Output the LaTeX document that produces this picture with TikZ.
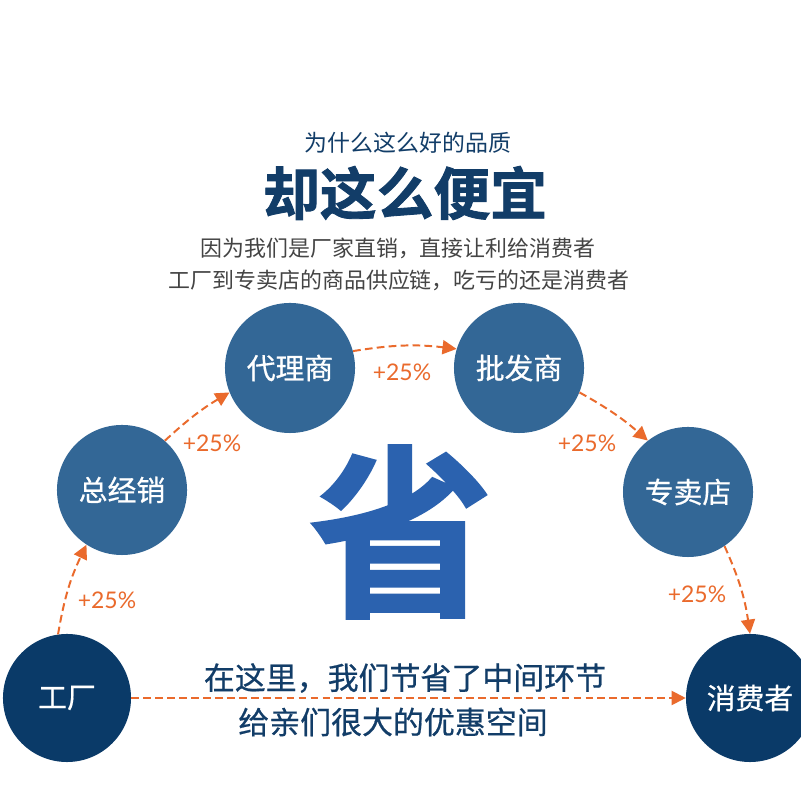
\documentclass[tikz,border=0pt]{standalone}
\usepackage{fontspec}
\newfontfamily\cjk{Noto Sans CJK SC}
\newfontfamily\cjkmed{Noto Sans CJK SC}[FakeBold=0.6]
\newfontfamily\cjkheavy{Noto Sans CJK SC}[UprightFont=* Bold, FakeBold=1.5]
\newfontfamily\latofont{Lato}
\usetikzlibrary{arrows.meta}
\definecolor{midblue}{RGB}{51,103,150}
\definecolor{darkblue}{RGB}{10,58,104}
\definecolor{titleblue}{RGB}{18,61,104}
\definecolor{bigblue}{RGB}{43,98,175}
\definecolor{flow}{RGB}{234,106,44}
\definecolor{graytext}{RGB}{68,68,68}
\begin{document}
\begin{tikzpicture}[x=0.025cm,y=0.025cm,
  midnode/.style={circle, fill=midblue, inner sep=0pt, minimum size=3.25cm,
    text=white, font=\cjkmed\fontsize{20.5}{20.5}\selectfont},
  endnode/.style={circle, fill=darkblue, inner sep=0pt, minimum size=3.2cm,
    text=white, font=\cjkmed\fontsize{20.5}{20.5}\selectfont},
  flowline/.style={draw=flow, line width=1.4pt, dash pattern=on 5.5pt off 3pt,
    -{Triangle[length=10pt,width=10pt]}},
  pct/.style={text=flow, font=\latofont\fontsize{16.3}{16.3}\selectfont, inner sep=0pt}
]
\useasboundingbox (0,0) rectangle (800,800);
\fill[white] (0,0) rectangle (800,800);

% titles
\node[text=titleblue, font=\cjk\fontsize{16.3}{16.3}\selectfont] (t1) at (408,657) {为什么这么好的品质};
\node[text=titleblue, font=\cjkheavy\fontsize{40.4}{40.4}\selectfont] (t2) at (405,607) {却这么便宜};
\node[text=graytext, font=\cjk\fontsize{15.6}{15.6}\selectfont] (t3) at (398,552) {因为我们是厂家直销，直接让利给消费者};
\node[text=graytext, font=\cjk\fontsize{15.6}{15.6}\selectfont] (t4) at (399,520) {工厂到专卖店的商品供应链，吃亏的还是消费者};

% big character
\node[text=bigblue, font=\cjkheavy\fontsize{131}{131}\selectfont] (big) at (401,268) {省};

% circles
\node[endnode] (fac) at (67,102) {工厂};
\node[midnode] (zjx) at (122,310) {总经销};
\node[midnode] (dls) at (290,432) {代理商};
\node[midnode] (pfs) at (519,432) {批发商};
\node[midnode] (zmd) at (688,308) {专卖店};
\node[endnode] (xfz) at (750,102) {消费者};

% connectors
\draw[flowline] (fac.98) to[bend left=8] (zjx.237);
\draw[flowline] (zjx.49) to[bend left=6] (dls.202);
\draw[flowline] (dls.15) to[bend left=8] (pfs.163);
\draw[flowline] (pfs.338) to[bend left=6] (zmd.128);
\draw[flowline] (zmd.304) to[bend left=8] (xfz.90);
\draw[flowline] (fac.east) -- (xfz.west);

% percentages
\node[pct] (p1) at (107,200) {+25\%};
\node[pct] (p2) at (212,357) {+25\%};
\node[pct] (p3) at (402,428) {+25\%};
\node[pct] (p4) at (587,357) {+25\%};
\node[pct] (p5) at (697,206) {+25\%};

% bottom text
\node[text=titleblue, font=\cjkmed\fontsize{22}{22}\selectfont] (b1) at (405,122) {在这里，我们节省了中间环节};
\node[text=titleblue, font=\cjkmed\fontsize{22}{22}\selectfont] (b2) at (393,78) {给亲们很大的优惠空间};
\end{tikzpicture}
\end{document}
